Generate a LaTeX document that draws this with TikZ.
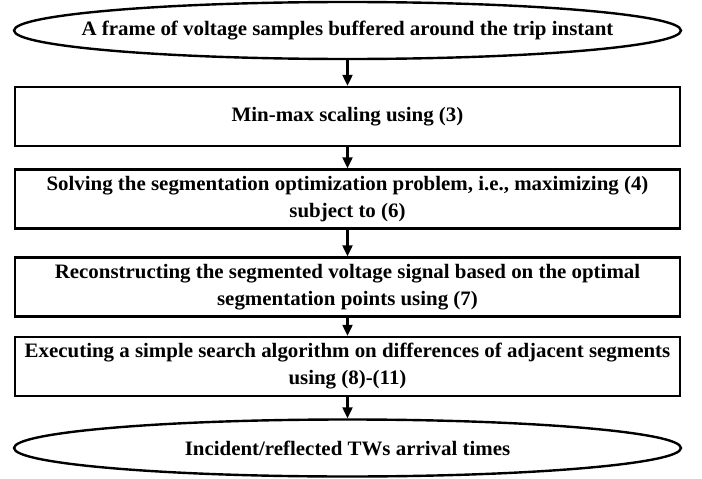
\documentclass[tikz,border=0pt]{standalone}
\usepackage{fontspec}
\setmainfont[FakeStretch=1.02]{Liberation Serif}
\usetikzlibrary{arrows.meta,shapes.geometric}

\tikzset{
	stepbox/.style={draw, line width=2.4pt, minimum width=665pt, minimum height=59pt,
		inner sep=0pt, align=center, font=\bfseries\fontsize{20.5}{27}\selectfont},
	termnode/.style={draw, ellipse, line width=2.4pt, minimum width=667pt, minimum height=57pt,
		inner sep=0pt, font=\bfseries\fontsize{20.5}{27}\selectfont},
	flow/.style={-{Triangle[length=11pt,width=10pt]}, line width=2.2pt}
}

\newcommand{\termtext}[1]{\makebox[0pt][c]{#1}}

\begin{document}
\begin{tikzpicture}[x=1pt,y=-1pt]
\useasboundingbox (0,0) rectangle (702,479);

\pgfmathsetmacro{\flX}{347.5}
\pgfmathsetmacro{\flYa}{30.5}
\pgfmathsetmacro{\flYb}{116.5}
\pgfmathsetmacro{\flYc}{199}
\pgfmathsetmacro{\flYd}{287}
\pgfmathsetmacro{\flYe}{366.5}
\pgfmathsetmacro{\flYf}{448}

\node[termnode] (frame) at (\flX,\flYa) {\termtext{A frame of voltage samples buffered around the trip instant}};
\node[stepbox] (scale) at (\flX,\flYb) {Min-max scaling using (3)};
\node[stepbox] (solve) at (\flX,\flYc) {Solving the segmentation optimization problem, i.e., maximizing (4)\\ subject to (6)};
\node[stepbox] (recon) at (\flX,\flYd) {Reconstructing the segmented voltage signal based on the optimal\\ segmentation points using (7)};
\node[stepbox] (search) at (\flX,\flYe) {Executing a simple search algorithm on differences of adjacent segments\\ using (8)-(11)};
\node[termnode] (times) at (\flX,\flYf) {\termtext{Incident/reflected TWs arrival times}};

\draw[flow] (frame) -- (scale);
\draw[flow] (scale) -- (solve);
\draw[flow] (solve) -- (recon);
\draw[flow] (recon) -- (search);
\draw[flow] (search) -- (times);
\end{tikzpicture}
\end{document}
